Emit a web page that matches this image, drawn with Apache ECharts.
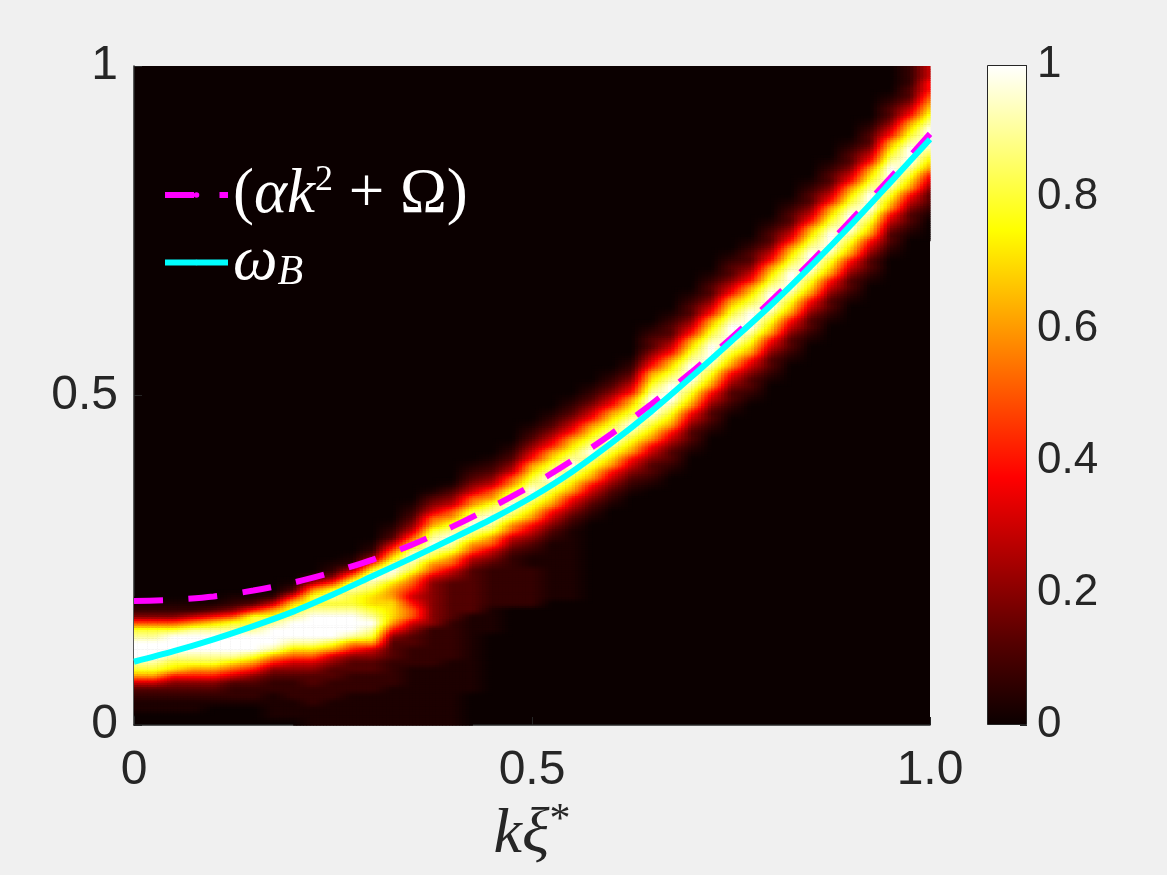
<!DOCTYPE html>
<html><head><meta charset="utf-8">
<script src="https://cdn.jsdelivr.net/npm/echarts@6/dist/echarts.min.js"></script>
<style>html,body{margin:0;padding:0;background:#f0f0f0;}#c{width:1167px;height:875px;}</style>
</head><body><div id="c"></div>
<script>
// ---- data ----
const kStep = 0.025;          // spacing of the sampled k columns
const wStep = 0.01;           // spacing of the sampled omega rows
const levelChars = '0123456789abc';
const levels = [0, 0.03, 0.07, 0.12, 0.2, 0.3, 0.4, 0.5, 0.6, 0.7, 0.8, 0.9, 1.0];
// one entry per k column (k = i*kStep): [first row index, intensity code per row going up]
const columns = [
  [2, "112358abcccba7421"],
  [2, "112358abcccba7421"],
  [2, "1123469abccca7421"],
  [2, "1123468abcccb8521"],
  [3, "123468abcccb9631"],
  [3, "1223579bcccba7421"],
  [3, "1223468acccbaa631"],
  [1, "1111223468bcccba852"],
  [1, "11122234579bcccba9631"],
  [0, "111222334579bccccbaa852"],
  [0, "111122233458accccbaba7421"],
  [0, "1111122233468bcccbaabb8521"],
  [0, "1111122233458abcba99abca7421"],
  [0, "1111112222333468999889bcb975321"],
  [0, "11111111122233457765678abcb9754321"],
  [0, "1111111112222224444444578abcba875431"],
  [0, "11111111112222223333334578abcba875431"],
  [5, "11111111111133333334578abcba8754321"],
  [14, "111122222234578abcba8754321"],
  [18, "2222222234578abcba8754321"],
  [18, "222222112345689abcba98654321"],
  [19, "1111111112345689abcba98654321"],
  [19, "111111111112345689abcba98654321"],
  [31, "12345689abcba98654321"],
  [33, "12345689abcba98654321"],
  [35, "12345689abcba98654321"],
  [36, "123345689abcccba986543321"],
  [38, "123345689abcccba986543321"],
  [41, "123345689abcccba986543321"],
  [44, "123345689abcccba986543321"],
  [47, "123345689abcccba986543321"],
  [49, "123345689abcccba986543321"],
  [52, "123345689abcccba986543321"],
  [55, "123345689abcccba986543321"],
  [58, "123345689abcccba986543321"],
  [61, "123345689abcccba986543321"],
  [64, "123345689abcccba986543321"],
  [67, "123345689abcccba986543321"],
  [71, "123345689abcccba986543321"],
  [74, "123345689abcccba9865433222"],
  [77, "123345689abcccba9876655"]
];
const lineK      = [0, 0.05, 0.1, 0.15, 0.2, 0.25, 0.3, 0.35, 0.4, 0.45, 0.5, 0.55, 0.6, 0.65, 0.7, 0.75, 0.8, 0.85, 0.9, 0.95, 1.0];
const fitOmega   = [0.188, 0.190, 0.195, 0.204, 0.216, 0.232, 0.251, 0.274, 0.301, 0.331, 0.364, 0.401, 0.442, 0.487, 0.535, 0.587, 0.643, 0.702, 0.765, 0.830, 0.897];
const bogoOmega  = [0.096, 0.112, 0.130, 0.150, 0.172, 0.198, 0.226, 0.254, 0.283, 0.313, 0.346, 0.384, 0.428, 0.476, 0.528, 0.582, 0.637, 0.696, 0.758, 0.823, 0.889];
const xTickLabels  = ['0', '0.5', '1.0'];
const yTickLabels  = ['0', '0.5', '1'];
const cbTickLabels = ['0', '0.2', '0.4', '0.6', '0.8', '1'];
const hotColors = ['#0b0000', '#550000', '#aa0000', '#ff0000', '#ff5500', '#ffaa00', '#ffff00', '#ffff80', '#ffffff'];
const seriesNames = ['(αk² + Ω)', 'ω_B'];

// ---- build tables ----
const nRows = 100;
const field = columns.map(function (col) {
  const arr = new Array(nRows).fill(0);
  for (let p = 0; p < col[1].length && col[0] + p < nRows; p++) arr[col[0] + p] = levels[levelChars.indexOf(col[1][p])];
  return arr;
});
// quads between neighbouring sample nodes (k_i, (j+0.5)*wStep), shaded like MATLAB "shading interp"
const quads = [];
for (let i = 0; i < field.length - 1; i++) {
  for (let j = -1; j < nRows; j++) {
    const j0 = Math.max(0, j), j1 = Math.min(nRows - 1, j + 1);
    const v00 = field[i][j0], v10 = field[i + 1][j0], v01 = field[i][j1], v11 = field[i + 1][j1];
    if (v00 + v10 + v01 + v11 === 0) continue;
    const w0 = j < 0 ? 0 : (j + 0.5) * wStep;
    const w1 = j + 1 >= nRows ? 1 : (j + 1.5) * wStep;
    quads.push([i * kStep, w0, (i + 1) * kStep, w1, v00, v10, v01, v11]);
  }
}
const fitData = lineK.map(function (k, i) { return [k, fitOmega[i]]; });
const bogoData = lineK.map(function (k, i) { return [k, bogoOmega[i]]; });

const hotRGB = hotColors.map(function (h) {
  return [parseInt(h.substr(1, 2), 16), parseInt(h.substr(3, 2), 16), parseInt(h.substr(5, 2), 16)];
});
function hot(v) {
  const t = Math.max(0, Math.min(1, v)) * (hotRGB.length - 1);
  const a = Math.min(hotRGB.length - 2, Math.floor(t)), f = t - a;
  const c0 = hotRGB[a], c1 = hotRGB[a + 1];
  return 'rgb(' + Math.round(c0[0] + (c1[0] - c0[0]) * f) + ',' + Math.round(c0[1] + (c1[1] - c0[1]) * f) + ',' + Math.round(c0[2] + (c1[2] - c0[2]) * f) + ')';
}

function renderQuad(params, api) {
  const pA = api.coord([api.value(0), api.value(1)]);
  const pB = api.coord([api.value(2), api.value(3)]);
  const v00 = api.value(4), v10 = api.value(5), v01 = api.value(6), v11 = api.value(7);
  const x0 = pA[0], y0 = pA[1], x1 = pB[0], y1 = pB[1];
  const nx = 6, ny = Math.max(1, Math.round((y0 - y1) / 2.2));
  const dx = (x1 - x0) / nx, dy = (y0 - y1) / ny;
  const children = [];
  for (let a = 0; a < nx; a++) {
    for (let b = 0; b < ny; b++) {
      const u = (a + 0.5) / nx, t = (b + 0.5) / ny;
      const v = v00 * (1 - u) * (1 - t) + v10 * u * (1 - t) + v01 * (1 - u) * t + v11 * u * t;
      children.push({ type: 'rect', silent: true,
        shape: { x: x0 + a * dx, y: y0 - (b + 1) * dy, width: dx + 0.6, height: dy + 0.6 },
        style: { fill: hot(v) } });
    }
  }
  return { type: 'group', children: children };
}

const ink = '#262626';
const chart = echarts.init(document.getElementById('c'));
chart.setOption({
  animation: false,
  backgroundColor: '#f0f0f0',
  textStyle: { fontFamily: 'Liberation Sans' },
  grid: [
    { left: 134, top: 66, width: 796, height: 659, show: true, backgroundColor: '#0b0000', borderWidth: 0 },
    { left: 987, top: 65, width: 40, height: 660, show: false }
  ],
  xAxis: [
    {
      gridIndex: 0, type: 'value', min: 0, max: 1, interval: 0.5,
      axisLine: { show: true, onZero: false, lineStyle: { color: ink, width: 1.5 } },
      axisTick: { show: true, inside: true, length: 8, lineStyle: { color: ink } },
      splitLine: { show: false },
      axisLabel: { fontSize: 48, color: ink, margin: 22, fontFamily: 'Liberation Sans',
        formatter: function (v) { return xTickLabels[Math.round(v / 0.5)]; } },
      name: '{a|kξ}{b|*}', nameLocation: 'middle', nameGap: 74,
      nameTextStyle: { rich: {
        a: { fontFamily: 'Liberation Serif', fontStyle: 'italic', fontSize: 64, color: ink, lineHeight: 68 },
        b: { fontFamily: 'Liberation Serif', fontSize: 42, color: ink, lineHeight: 42, padding: [0, 0, 28, 0] }
      } }
    },
    { gridIndex: 1, type: 'category', data: ['cb'], show: false, boundaryGap: true }
  ],
  yAxis: [
    {
      gridIndex: 0, type: 'value', min: 0, max: 1, interval: 0.5,
      axisLine: { show: true, onZero: false, lineStyle: { color: ink, width: 1.5 } },
      axisTick: { show: true, inside: true, length: 8, lineStyle: { color: ink } },
      splitLine: { show: false },
      axisLabel: { fontSize: 48, color: ink, margin: 16, fontFamily: 'Liberation Sans',
        formatter: function (v) { return yTickLabels[Math.round(v / 0.5)]; } }
    },
    {
      gridIndex: 1, type: 'value', min: 0, max: 1, interval: 0.2, position: 'right',
      axisLine: { show: false },
      axisTick: { show: true, inside: true, length: 7, lineStyle: { color: ink } },
      splitLine: { show: false },
      axisLabel: { fontSize: 44, color: ink, margin: 10, fontFamily: 'Liberation Sans',
        formatter: function (v) { return cbTickLabels[Math.round(v / 0.2)]; } }
    }
  ],
  legend: {
    data: seriesNames, orient: 'vertical', left: 162, top: 163, padding: 0,
    itemWidth: 63, itemHeight: 7, itemGap: 4, selectedMode: false,
    lineStyle: { width: 6 },
    textStyle: { color: '#ffffff', rich: {
      r: { fontFamily: 'Liberation Serif', fontSize: 63, color: '#fff', lineHeight: 60 },
      i: { fontFamily: 'Liberation Serif', fontStyle: 'italic', fontSize: 63, color: '#fff', lineHeight: 60 },
      sp: { fontFamily: 'Liberation Serif', fontSize: 36, color: '#fff', lineHeight: 40, padding: [0, 0, 28, 0] },
      sb: { fontFamily: 'Liberation Serif', fontStyle: 'italic', fontSize: 42, color: '#fff', lineHeight: 44, padding: [20, 0, 0, 0] }
    } },
    formatter: function (name) {
      if (name === seriesNames[0]) return '{r|(}{i|αk}{sp|2}{r| + Ω)}';
      return '{i|ω}{sb|B}';
    }
  },
  series: [
    {
      type: 'custom', xAxisIndex: 0, yAxisIndex: 0, data: quads, renderItem: renderQuad,
      encode: { x: [0, 2], y: [1, 3] }, progressive: 0, silent: true
    },
    {
      name: seriesNames[0], type: 'line', xAxisIndex: 0, yAxisIndex: 0, data: fitData,
      smooth: 0.3, symbol: 'none', showSymbol: false, silent: true,
      lineStyle: { color: '#ff00ff', width: 6, type: [29, 25.5], cap: 'butt' },
      itemStyle: { color: '#ff00ff' }
    },
    {
      name: seriesNames[1], type: 'line', xAxisIndex: 0, yAxisIndex: 0, data: bogoData,
      smooth: 0.3, symbol: 'none', showSymbol: false, silent: true,
      lineStyle: { color: '#00ffff', width: 6 },
      itemStyle: { color: '#00ffff' }
    },
    {
      type: 'bar', xAxisIndex: 1, yAxisIndex: 1, data: [1], barWidth: '100%', silent: true,
      itemStyle: {
        borderColor: ink, borderWidth: 1,
        color: { type: 'linear', x: 0, y: 1, x2: 0, y2: 0,
          colorStops: hotColors.map(function (c, i) { return { offset: i / (hotColors.length - 1), color: c }; }) }
      }
    }
  ]
});
</script>
</body></html>
